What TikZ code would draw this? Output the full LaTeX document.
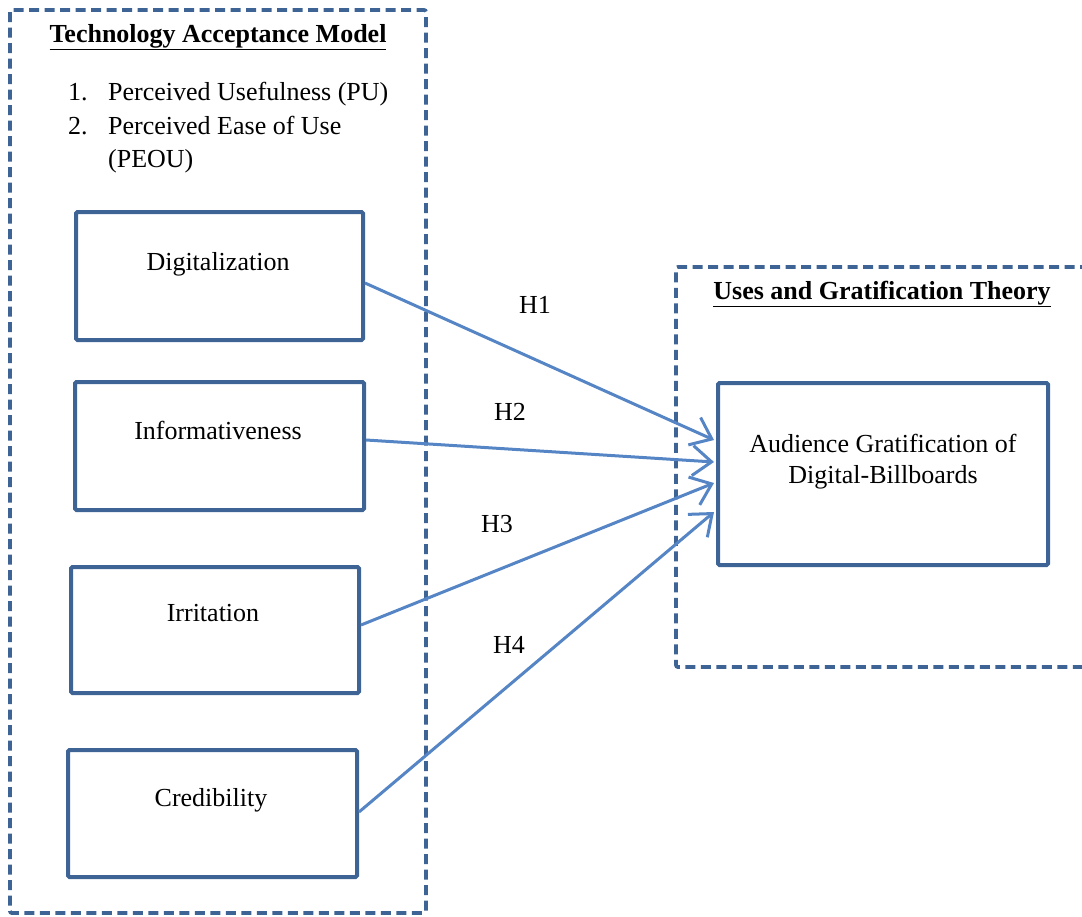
\documentclass[tikz,border=0pt]{standalone}
\usepackage{fontspec}
\setmainfont{Liberation Serif}
\usetikzlibrary{arrows.meta}
\definecolor{boxblue}{HTML}{3D6494}
\definecolor{arrowblue}{HTML}{5585C4}
\tikzset{
  dashbox/.style={draw=boxblue, line width=3.8pt, dash pattern=on 10pt off 5.5pt, rounded corners=2pt},
  varbox/.style={draw=boxblue, line width=4pt, rounded corners=1.5pt, inner sep=0pt},
  txt/.style={font=\fontsize{26}{31}\selectfont, inner sep=0pt, anchor=base},
  ttl/.style={font=\fontsize{26}{31}\selectfont\bfseries, inner sep=0pt, anchor=base},
  conn/.style={draw=arrowblue, line width=3pt, -{Straight Barb[length=19pt,width=30pt,line width=3pt]}},
}
\begin{document}
\begin{tikzpicture}[x=1pt,y=-1pt]
\useasboundingbox (0,0) rectangle (1082,916);
% left dashed frame
\draw[dashbox] (10,10) rectangle (426,913);
\node[ttl] (tamtitle) at (218,42) {\underline{Technology Acceptance Model}};
\node[txt, anchor=base west] (n1) at (68,100) {1.};
\node[txt, anchor=base west] (pu) at (108,100) {Perceived Usefulness (PU)};
\node[txt, anchor=base west] (n2) at (68,134) {2.};
\node[txt, anchor=base west] (peou1) at (108,134) {Perceived Ease of Use};
\node[txt, anchor=base west] (peou2) at (108,167) {(PEOU)};
% right dashed frame (open to the right)
\draw[dashbox] (1090,267) -- (676,267) -- (676,667) -- (1090,667);
\node[ttl] (ugtitle) at (882,299) {\underline{Uses and Gratification Theory}};
% variable boxes
\node[varbox, minimum width=287pt, minimum height=128pt] (dig) at (219.5,276) {};
\node[txt] (digt) at (218,270) {Digitalization};
\node[varbox, minimum width=289pt, minimum height=128pt] (inf) at (219.5,446) {};
\node[txt] (inft) at (218,439) {Informativeness};
\node[varbox, minimum width=288pt, minimum height=126pt] (irr) at (215,630) {};
\node[txt] (irrt) at (213,621) {Irritation};
\node[varbox, minimum width=289pt, minimum height=127pt] (cred) at (212.5,813.5) {};
\node[txt] (credt) at (211,806) {Credibility};
\node[varbox, minimum width=330pt, minimum height=182pt] (aud) at (883,474) {};
\node[txt] (audt1) at (883,452) {Audience Gratification of};
\node[txt] (audt2) at (883,483) {Digital-Billboards};
% connectors
\draw[conn] ([yshift=-7pt]dig.east) -- ([xshift=-2pt,yshift=34pt]aud.west);
\draw[conn] ([yshift=6pt]inf.east) -- ([xshift=-2pt,yshift=12pt]aud.west);
\draw[conn] ([yshift=5pt]irr.east) -- ([xshift=-2pt,yshift=-9pt]aud.west);
\draw[conn] ([yshift=1.5pt]cred.east) -- ([xshift=-2pt,yshift=-38pt]aud.west);
\node[txt] (h1) at (535,313) {H1};
\node[txt] (h2) at (510,420) {H2};
\node[txt] (h3) at (497,532) {H3};
\node[txt] (h4) at (509,653) {H4};
\end{tikzpicture}
\end{document}
